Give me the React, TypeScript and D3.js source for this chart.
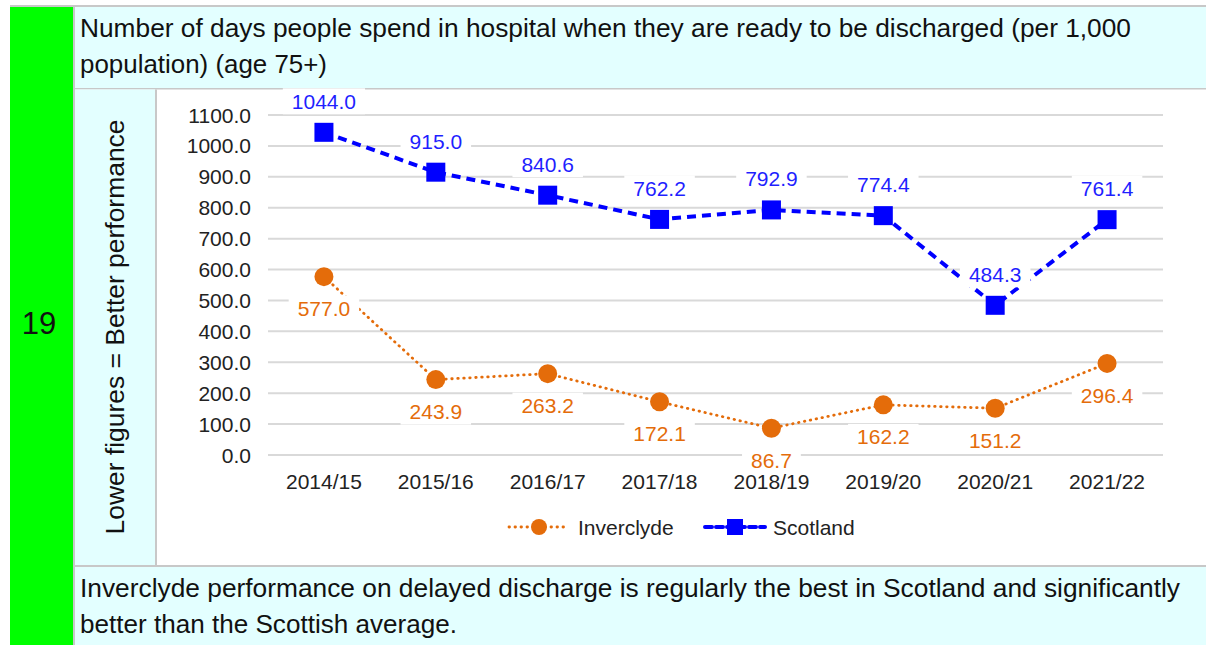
import React from "react";
import * as d3 from "d3";

const categories = ["2014/15", "2015/16", "2016/17", "2017/18", "2018/19", "2019/20", "2020/21", "2021/22"];
const inverclyde = [577.0, 243.9, 263.2, 172.1, 86.7, 162.2, 151.2, 296.4];
const scotland = [1044.0, 915.0, 840.6, 762.2, 792.9, 774.4, 484.3, 761.4];
const yTicks = [0, 100, 200, 300, 400, 500, 600, 700, 800, 900, 1000, 1100];
const seriesNames = ["Inverclyde", "Scotland"];
const rowNumber = "19";
const titleLines = [
  "Number of days people spend in hospital when they are ready to be discharged (per 1,000",
  "population) (age 75+)",
];
const footerLines = [
  "Inverclyde performance on delayed discharge is regularly the best in Scotland and significantly",
  "better than the Scottish average.",
];
const sideLabel = "Lower figures = Better performance";

const W = 1206;
const H = 645;
const FONT = "Arial, 'Liberation Sans', sans-serif";
const CYAN = "#e3ffff";
const GREEN = "#00ff00";
const BORDER = "#c8c8c8";
const ORANGE = "#e46c0a";
const BLUE = "#0000ff";
const BLUE_TXT = "#1f1fff";

export default function App() {
  const x = d3.scaleBand<string>().domain(categories).range([268, 1163]);
  const y = d3.scaleLinear().domain([0, 1100]).range([455, 115]);
  const cx = (c: string) => (x(c) ?? 0) + x.bandwidth() / 2;

  const line = d3
    .line<number>()
    .x((_, i) => cx(categories[i]))
    .y((d) => y(d));

  const labelFs = 21;
  const labelBox = (txt: string, xc: number, yc: number, color: string, key: string) => {
    const w = txt.length * 11.7 + 12;
    return (
      <g key={key}>
        <rect x={xc - w / 2} y={yc - 13} width={w} height={26} fill="#fff" />
        <text x={xc} y={yc} textAnchor="middle" dominantBaseline="central" fontSize={labelFs} fill={color} fontFamily={FONT}>
          {txt}
        </text>
      </g>
    );
  };

  return (
    <svg width={W} height={H} style={{ position: "absolute", left: 0, top: 0 }} fontFamily={FONT}>
      <rect x={0} y={0} width={W} height={H} fill="#fff" />
      {/* top border */}
      <rect x={10} y={5} width={W - 10} height={2} fill={BORDER} />
      {/* green column */}
      <rect x={10} y={7} width={63} height={H - 7} fill={GREEN} />
      <rect x={73} y={7} width={2} height={H - 7} fill={BORDER} />
      {/* header */}
      <rect x={75} y={7} width={W - 75} height={81} fill={CYAN} />
      <rect x={75} y={88} width={W - 75} height={1.5} fill={BORDER} />
      <text x={80} y={37} fontSize={25} fill="#111" textLength={1051} lengthAdjust="spacingAndGlyphs">
        {titleLines[0]}
      </text>
      <text x={80} y={73} fontSize={25} fill="#111" textLength={247} lengthAdjust="spacingAndGlyphs">
        {titleLines[1]}
      </text>
      {/* side label cell */}
      <rect x={75} y={89.5} width={80} height={476} fill={CYAN} />
      <rect x={155} y={89.5} width={2} height={476} fill={BORDER} />
      <text
        transform={`translate(124,327) rotate(-90)`}
        textAnchor="middle"
        fontSize={25}
        fill="#111"
        textLength={415}
        lengthAdjust="spacingAndGlyphs"
      >
        {sideLabel}
      </text>
      {/* footer */}
      <rect x={75} y={565} width={W - 75} height={2} fill={BORDER} />
      <rect x={75} y={567} width={W - 75} height={H - 567} fill={CYAN} />
      <text x={80} y={597} fontSize={25} fill="#111" textLength={1100} lengthAdjust="spacingAndGlyphs">
        {footerLines[0]}
      </text>
      <text x={80} y={633} fontSize={25} fill="#111" textLength={377} lengthAdjust="spacingAndGlyphs">
        {footerLines[1]}
      </text>
      {/* row number */}
      <text x={39} y={334} textAnchor="middle" fontSize={31} fill="#111">
        {rowNumber}
      </text>

      {/* gridlines */}
      {yTicks.map((t) => (
        <g key={t}>
          <line x1={268} x2={1163} y1={y(t)} y2={y(t)} stroke="#d9d9d9" strokeWidth={2} />
          <text x={251} y={y(t)} textAnchor="end" dominantBaseline="central" fontSize={21} fill="#222">
            {t.toFixed(1)}
          </text>
        </g>
      ))}
      {/* x labels */}
      {categories.map((c) => (
        <text key={c} x={cx(c)} y={481} textAnchor="middle" dominantBaseline="central" fontSize={21} fill="#222">
          {c}
        </text>
      ))}

      {/* Inverclyde */}
      <path d={line(inverclyde) ?? ""} fill="none" stroke={ORANGE} strokeWidth={2.8} strokeDasharray="0.5 5.5" strokeLinecap="round" />
      {/* Scotland */}
      <path d={line(scotland) ?? ""} fill="none" stroke={BLUE} strokeWidth={4} strokeDasharray="9 6" />

      {/* labels */}
      {inverclyde.map((v, i) => labelBox(v.toFixed(1), cx(categories[i]), y(v) + 32, ORANGE, "il" + i))}
      {scotland.map((v, i) => labelBox(v.toFixed(1), cx(categories[i]), y(v) - 31, BLUE_TXT, "sl" + i))}

      {/* markers */}
      {inverclyde.map((v, i) => (
        <circle key={"ic" + i} cx={cx(categories[i])} cy={y(v)} r={9.5} fill={ORANGE} />
      ))}
      {scotland.map((v, i) => (
        <rect key={"sc" + i} x={cx(categories[i]) - 9.5} y={y(v) - 9.5} width={19} height={19} fill={BLUE} />
      ))}

      {/* legend */}
      <g>
        <line x1={509} x2={569} y1={527} y2={527} stroke={ORANGE} strokeWidth={2.8} strokeDasharray="0.5 5.5" strokeLinecap="round" />
        <circle cx={539} cy={527} r={8} fill={ORANGE} />
        <text x={578} y={527} dominantBaseline="central" fontSize={21} fill="#222">
          {seriesNames[0]}
        </text>
        <line x1={705} x2={765} y1={527} y2={527} stroke={BLUE} strokeWidth={4} strokeDasharray="7 4" strokeLinecap="round" />
        <rect x={727} y={519} width={16} height={16} fill={BLUE} />
        <text x={773} y={527} dominantBaseline="central" fontSize={21} fill="#222">
          {seriesNames[1]}
        </text>
      </g>
    </svg>
  );
}
